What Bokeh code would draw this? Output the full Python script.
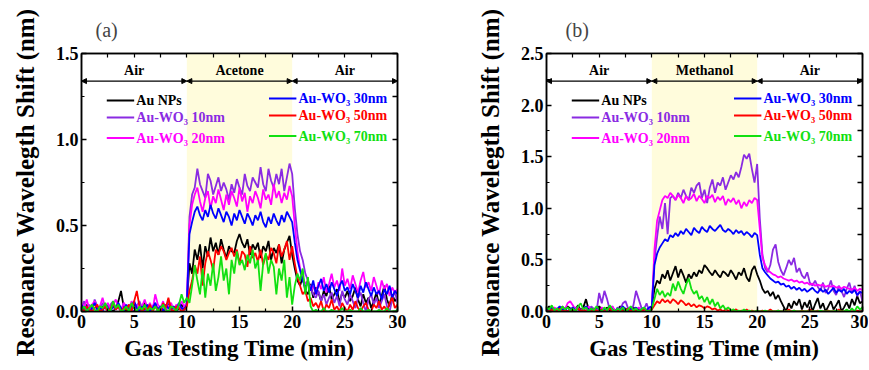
from bokeh.plotting import figure
from bokeh.layouts import row
from bokeh.models import (LinearAxis, Range1d, BoxAnnotation, Arrow, NormalHead,
                          Label, FixedTicker, NumeralTickFormatter)
from bokeh.embed import file_html
from bokeh.resources import INLINE

# ---------------- data ----------------
time_min = [round(i * 0.25, 2) for i in range(121)]

series_names = ["Au NPs", "Au-WO\u2083 10nm", "Au-WO\u2083 20nm",
                "Au-WO\u2083 30nm", "Au-WO\u2083 50nm", "Au-WO\u2083 70nm"]
series_colors = ["#000000", "#8A2BE2", "#FF00FF", "#0000FF", "#FF0000", "#11E011"]

phase_edges = [0, 10, 20, 30]
phases_a = ["Air", "Acetone", "Air"]
phases_b = ["Air", "Methanol", "Air"]

x_ticks = [0, 5, 10, 15, 20, 25, 30]
y_ticks_a = [0.0, 0.5, 1.0, 1.5]
y_ticks_b = [0.0, 0.5, 1.0, 1.5, 2.0, 2.5]

# ---- panel (a): acetone ----
a_au_nps = [
    0.03,0.01,0.04,0.00,0.02,0.05,0.01,0.00,0.03,0.02,
    0.04,0.01,0.00,0.02,0.06,0.12,0.03,0.00,0.02,0.01,
    0.04,0.02,0.00,0.03,0.05,0.01,0.00,0.02,0.04,0.01,
    0.03,0.00,0.02,0.05,0.01,0.03,0.00,0.02,0.04,0.01,
    0.05,
    0.28,0.22,0.36,0.30,0.39,0.25,0.38,0.32,0.43,0.35,
    0.40,0.33,0.42,0.36,0.31,0.38,0.35,0.34,0.41,0.45,
    0.40,0.37,0.42,0.33,0.39,0.36,0.40,0.31,0.38,0.35,
    0.41,0.30,0.37,0.34,0.39,0.28,0.36,0.40,0.44,0.33,
    0.25,0.18,0.15,0.20,0.12,0.10,0.16,0.08,0.14,0.11,
    0.06,0.12,0.09,0.15,0.07,0.10,0.13,0.05,0.11,0.08,
    0.12,0.06,0.09,0.14,0.07,0.03,0.10,0.05,0.08,0.02,
    0.06,0.11,0.04,0.09,0.15,0.07,0.03,0.10,0.06,0.08]
a_wo3_10 = [
    0.02,0.06,0.01,0.04,0.00,0.07,0.03,0.01,0.05,0.02,
    0.00,0.04,0.06,0.01,0.03,0.00,0.05,0.02,0.04,0.01,
    0.00,0.03,0.06,0.02,0.00,0.04,0.01,0.03,0.05,0.00,
    0.02,0.04,0.01,0.06,0.03,0.00,0.02,0.05,0.01,0.03,
    0.04,
    0.55,0.68,0.72,0.83,0.74,0.70,0.66,0.80,0.76,0.68,
    0.73,0.78,0.70,0.75,0.71,0.65,0.74,0.69,0.77,0.72,
    0.68,0.80,0.73,0.70,0.78,0.75,0.72,0.84,0.74,0.70,
    0.83,0.76,0.72,0.80,0.74,0.83,0.70,0.78,0.86,0.80,
    0.60,0.45,0.35,0.30,0.22,0.18,0.14,0.10,0.08,0.12,
    0.06,0.10,0.04,0.08,0.11,0.05,0.09,0.03,0.12,0.07,
    0.04,0.10,0.06,0.02,0.08,0.11,0.05,0.00,0.07,0.10,
    0.04,0.08,0.02,0.06,0.10,0.03,0.00,0.07,0.12,0.05]
a_wo3_20 = [
    0.05,0.02,0.07,0.01,0.04,0.06,0.00,0.03,0.08,0.02,
    0.05,0.01,0.04,0.07,0.02,0.00,0.05,0.03,0.01,0.06,
    0.02,0.04,0.00,0.03,0.07,0.02,0.05,0.01,0.10,0.04,
    0.02,0.06,0.00,0.03,0.05,0.01,0.04,0.02,0.06,0.03,
    0.05,
    0.50,0.62,0.68,0.72,0.64,0.58,0.66,0.70,0.60,0.67,
    0.63,0.71,0.65,0.59,0.68,0.62,0.70,0.66,0.61,0.72,
    0.64,0.69,0.58,0.67,0.63,0.70,0.66,0.60,0.71,0.65,
    0.68,0.62,0.74,0.66,0.70,0.63,0.69,0.65,0.73,0.67,
    0.50,0.35,0.25,0.20,0.16,0.18,0.12,0.15,0.10,0.17,
    0.13,0.20,0.11,0.16,0.22,0.14,0.18,0.12,0.25,0.15,
    0.19,0.13,0.21,0.16,0.11,0.18,0.23,0.14,0.17,0.12,
    0.20,0.15,0.10,0.18,0.13,0.16,0.09,0.14,0.11,0.13]
a_wo3_30 = [
    0.04,0.01,0.03,0.00,0.02,0.05,0.01,0.03,0.00,0.04,
    0.02,0.00,0.03,0.01,0.05,0.02,0.00,0.04,0.01,0.03,
    0.06,0.02,0.00,0.03,0.01,0.04,0.00,0.02,0.05,0.01,
    0.03,0.00,0.04,0.02,0.01,0.03,0.00,0.05,0.02,0.01,
    0.04,
    0.45,0.52,0.58,0.61,0.56,0.53,0.59,0.55,0.62,0.57,
    0.54,0.60,0.56,0.52,0.58,0.55,0.50,0.57,0.53,0.59,
    0.55,0.51,0.57,0.54,0.50,0.56,0.53,0.58,0.52,0.49,
    0.55,0.51,0.57,0.53,0.50,0.56,0.52,0.58,0.55,0.52,
    0.40,0.30,0.24,0.18,0.14,0.17,0.12,0.18,0.10,0.15,
    0.19,0.12,0.16,0.11,0.17,0.13,0.09,0.15,0.18,0.12,
    0.14,0.10,0.16,0.12,0.08,0.15,0.11,0.17,0.13,0.09,
    0.14,0.10,0.12,0.07,0.13,0.10,0.15,0.08,0.12,0.10]
a_wo3_50 = [
    0.02,0.00,0.03,0.01,0.00,0.02,0.04,0.00,0.01,0.03,
    0.00,0.02,0.05,0.01,0.03,0.00,0.02,0.01,0.04,0.00,
    0.06,0.12,0.03,0.00,0.02,0.01,0.04,0.00,0.03,0.01,
    0.00,0.05,0.02,0.08,0.01,0.00,0.03,0.02,0.00,0.01,
    0.03,
    0.12,0.18,0.27,0.22,0.32,0.15,0.28,0.35,0.30,0.24,
    0.36,0.33,0.38,0.35,0.30,0.34,0.37,0.32,0.36,0.28,
    0.35,0.33,0.26,0.38,0.31,0.34,0.29,0.36,0.27,0.33,
    0.30,0.37,0.34,0.28,0.39,0.32,0.36,0.41,0.30,0.38,
    0.28,0.20,0.15,0.10,0.12,0.06,0.08,0.03,0.05,0.02,
    0.06,0.00,0.04,0.02,0.07,0.01,0.03,0.00,0.05,0.02,
    0.00,0.04,0.01,0.06,0.02,0.00,0.03,0.05,0.01,0.00,
    0.04,0.02,0.06,0.01,0.03,0.00,0.05,0.08,0.02,0.04]
a_wo3_70 = [
    0.01,0.03,0.00,0.02,0.04,0.01,0.00,0.03,0.02,0.05,
    0.01,0.00,0.06,0.02,0.04,0.00,0.01,0.03,0.00,0.05,
    0.02,0.00,0.03,0.01,0.04,0.00,0.02,0.01,0.03,0.00,
    0.02,0.04,0.01,0.00,0.03,0.02,0.00,0.04,0.10,0.05,
    0.08,
    0.05,0.15,0.27,0.18,0.10,0.25,0.08,0.22,0.15,0.28,
    0.12,0.20,0.32,0.18,0.25,0.10,0.30,0.22,0.35,0.27,
    0.30,0.24,0.33,0.28,0.36,0.25,0.30,0.12,0.28,0.34,
    0.22,0.30,0.26,0.10,0.25,0.18,0.30,0.08,0.20,0.04,
    0.15,0.22,0.18,0.25,0.10,0.20,0.03,0.00,0.01,0.00,
    0.00,0.02,0.00,0.00,0.01,0.00,0.00,0.00,0.02,0.00,
    0.00,0.01,0.00,0.00,0.00,0.02,0.00,0.00,0.01,0.00,
    0.00,0.00,0.01,0.00,0.00,0.02,0.00,0.00,0.00,0.01]

# ---- panel (b): methanol ----
b_au_nps = [
    0.02,0.05,0.01,0.03,0.00,0.04,0.02,0.01,0.05,0.03,
    0.00,0.02,0.06,0.01,0.04,0.12,0.02,0.00,0.03,0.01,
    0.05,0.02,0.00,0.04,0.01,0.03,0.00,0.02,0.05,0.01,
    0.03,0.00,0.02,0.04,0.01,0.03,0.00,0.02,0.01,0.03,
    0.05,
    0.22,0.30,0.27,0.36,0.32,0.40,0.30,0.37,0.44,0.33,
    0.41,0.35,0.28,0.36,0.32,0.38,0.34,0.40,0.37,0.45,
    0.42,0.38,0.35,0.40,0.36,0.33,0.39,0.37,0.34,0.40,
    0.36,0.31,0.38,0.35,0.42,0.33,0.29,0.40,0.44,0.36,
    0.30,0.22,0.18,0.20,0.15,0.19,0.12,0.16,0.10,0.05,
    0.00,0.08,0.03,0.10,0.06,0.12,0.02,0.09,0.04,0.11,
    0.00,0.07,0.13,0.03,0.08,0.00,0.05,0.10,0.02,0.06,
    0.11,0.00,0.04,0.09,0.03,0.12,0.06,0.15,0.08,0.10]
b_wo3_10 = [
    0.02,0.00,0.04,0.01,0.03,0.00,0.05,0.02,0.00,0.03,
    0.01,0.04,0.02,0.00,0.03,0.01,0.00,0.05,0.02,0.00,
    0.18,0.08,0.20,0.12,0.02,0.05,0.00,0.04,0.02,0.08,
    0.10,0.03,0.00,0.06,0.20,0.12,0.04,0.02,0.08,0.00,
    0.05,
    0.50,0.72,0.92,0.80,1.05,0.75,1.10,1.12,1.08,1.15,
    1.10,1.18,1.12,1.08,1.20,1.15,1.22,1.25,1.10,1.18,
    1.05,1.20,1.28,1.15,1.25,1.22,1.30,1.18,1.25,1.32,
    1.28,1.35,1.30,1.40,1.52,1.48,1.53,1.38,1.25,1.43,
    0.90,0.55,0.42,0.38,0.45,0.60,0.65,0.48,0.40,0.35,
    0.42,0.50,0.45,0.52,0.38,0.42,0.35,0.32,0.38,0.28,
    0.25,0.30,0.24,0.20,0.28,0.18,0.22,0.30,0.20,0.16,
    0.25,0.20,0.14,0.22,0.28,0.18,0.25,0.15,0.20,0.10]
b_wo3_20 = [
    0.00,0.03,0.01,0.04,0.02,0.00,0.05,0.02,0.08,0.10,
    0.06,0.02,0.04,0.00,0.03,0.01,0.05,0.02,0.00,0.03,
    0.01,0.04,0.02,0.00,0.03,0.05,0.01,0.02,0.00,0.04,
    0.02,0.01,0.03,0.00,0.02,0.04,0.01,0.00,0.02,0.03,
    0.04,
    0.60,0.88,0.98,1.08,1.12,1.10,1.15,1.12,1.08,1.13,
    1.10,1.05,1.12,1.08,1.10,1.14,1.07,1.12,1.09,1.05,
    1.12,1.10,1.13,1.06,1.11,1.08,1.12,1.03,1.09,1.06,
    1.10,1.04,1.08,1.00,1.06,1.02,1.08,1.05,1.10,1.08,
    0.80,0.52,0.45,0.40,0.38,0.36,0.35,0.33,0.34,0.32,
    0.31,0.30,0.31,0.29,0.30,0.28,0.29,0.27,0.28,0.26,
    0.27,0.25,0.26,0.25,0.26,0.24,0.25,0.24,0.25,0.23,
    0.24,0.22,0.24,0.23,0.22,0.21,0.23,0.20,0.22,0.21]
b_wo3_30 = [
    0.03,0.01,0.04,0.00,0.02,0.05,0.01,0.03,0.00,0.02,
    0.04,0.01,0.03,0.00,0.02,0.05,0.01,0.03,0.00,0.04,
    0.02,0.00,0.03,0.01,0.04,0.02,0.00,0.03,0.01,0.05,
    0.02,0.00,0.03,0.01,0.04,0.00,0.02,0.03,0.01,0.04,
    0.05,
    0.45,0.56,0.62,0.66,0.70,0.68,0.74,0.72,0.76,0.73,
    0.78,0.75,0.80,0.77,0.74,0.81,0.78,0.76,0.82,0.79,
    0.77,0.83,0.80,0.78,0.81,0.84,0.79,0.77,0.80,0.78,
    0.75,0.79,0.76,0.78,0.74,0.77,0.75,0.72,0.76,0.74,
    0.55,0.42,0.38,0.35,0.32,0.30,0.28,0.29,0.26,0.27,
    0.24,0.25,0.22,0.24,0.21,0.23,0.20,0.22,0.19,0.21,
    0.23,0.20,0.18,0.22,0.19,0.21,0.17,0.20,0.23,0.18,
    0.21,0.19,0.22,0.17,0.20,0.18,0.21,0.16,0.19,0.18]
b_wo3_50 = [
    0.01,0.00,0.02,0.00,0.01,0.03,0.00,0.01,0.00,0.02,
    0.00,0.01,0.03,0.00,0.02,0.00,0.01,0.00,0.02,0.01,
    0.00,0.02,0.00,0.01,0.03,0.00,0.01,0.00,0.02,0.00,
    0.01,0.03,0.00,0.02,0.00,0.01,0.00,0.02,0.01,0.00,
    0.02,
    0.06,0.10,0.08,0.12,0.09,0.11,0.08,0.12,0.10,0.07,
    0.11,0.09,0.06,0.08,0.05,0.07,0.04,0.06,0.05,0.03,
    0.05,0.04,0.02,0.03,0.01,0.02,0.00,0.02,0.01,0.00,
    0.01,0.02,0.00,0.01,0.00,0.02,0.00,0.01,0.00,0.01,
    0.00,0.01,0.00,0.00,0.02,0.00,0.00,0.01,0.00,0.00,
    0.00,0.02,0.00,0.01,0.00,0.00,0.01,0.00,0.00,0.02,
    0.00,0.00,0.01,0.00,0.00,0.00,0.01,0.00,0.00,0.00,
    0.02,0.00,0.00,0.01,0.00,0.00,0.00,0.01,0.00,0.00]
b_wo3_70 = [
    0.04,0.02,0.06,0.01,0.03,0.00,0.05,0.02,0.04,0.01,
    0.03,0.00,0.05,0.08,0.02,0.04,0.00,0.03,0.01,0.05,
    0.02,0.00,0.04,0.01,0.06,0.02,0.00,0.03,0.01,0.04,
    0.00,0.02,0.05,0.01,0.03,0.00,0.02,0.04,0.01,0.00,
    0.03,
    0.12,0.22,0.16,0.20,0.14,0.18,0.15,0.27,0.20,0.29,
    0.22,0.17,0.26,0.32,0.22,0.17,0.20,0.12,0.15,0.09,
    0.14,0.07,0.12,0.05,0.09,0.03,0.06,0.02,0.04,0.01,
    0.02,0.00,0.01,0.00,0.02,0.00,0.01,0.00,0.00,0.01,
    0.00,0.00,0.01,0.00,0.00,0.00,0.00,0.01,0.00,0.00,
    0.00,0.00,0.00,0.01,0.00,0.00,0.00,0.00,0.00,0.00,
    0.00,0.00,0.00,0.01,0.00,0.00,0.00,0.00,0.00,0.01,
    0.00,0.00,0.00,0.02,0.00,0.03,0.00,0.05,0.02,0.04]

series_a = [a_au_nps, a_wo3_10, a_wo3_20, a_wo3_30, a_wo3_50, a_wo3_70]
series_b = [b_au_nps, b_wo3_10, b_wo3_20, b_wo3_30, b_wo3_50, b_wo3_70]

FONT = "Liberation Serif"


def style_axis(ax):
    ax.major_label_text_font = FONT
    ax.major_label_text_font_style = "bold"
    ax.major_label_text_font_size = "18px"
    ax.major_label_text_color = "black"
    ax.axis_label_text_font = FONT
    ax.axis_label_text_font_style = "bold"
    ax.axis_label_text_color = "black"
    ax.axis_line_width = 1.5
    ax.axis_line_color = "black"
    ax.major_tick_in = 5
    ax.major_tick_out = 0
    ax.minor_tick_in = 3
    ax.minor_tick_out = 0
    ax.major_tick_line_width = 1.5
    ax.minor_tick_line_width = 1.2
    ax.major_tick_line_color = "black"
    ax.minor_tick_line_color = "black"


def make_panel(tag, series, phases, y_max, y_ticks, left_border, right_border,
               tag_offset):
    p = figure(output_backend="svg", toolbar_location=None,
               x_range=Range1d(0, 30), y_range=Range1d(0, y_max),
               frame_width=316, frame_height=258,
               min_border_left=left_border, min_border_right=right_border,
               min_border_top=53, min_border_bottom=59,
               background_fill_color="white", border_fill_color="white")
    p.grid.visible = False
    p.outline_line_color = "black"
    p.outline_line_width = 1.5

    # panel tag as title
    p.title.text = tag
    p.title.align = "left"
    p.title.offset = tag_offset
    p.title.text_font = FONT
    p.title.text_font_style = "normal"
    p.title.text_font_size = "20px"
    p.title.standoff = 26

    x_minor = [t + 2.5 for t in x_ticks[:-1]]
    step = y_ticks[1] - y_ticks[0]
    y_minor = [t + step / 2 for t in y_ticks[:-1]]
    xt = FixedTicker(ticks=x_ticks, minor_ticks=x_minor)
    yt = FixedTicker(ticks=y_ticks, minor_ticks=y_minor)

    p.xaxis.ticker = xt
    p.yaxis.ticker = yt
    p.yaxis.formatter = NumeralTickFormatter(format="0.0")
    p.xaxis.axis_label = "Gas Testing Time (min)"
    p.yaxis.axis_label = "Resonance Wavelegth Shift (nm)"
    style_axis(p.xaxis[0])
    style_axis(p.yaxis[0])
    p.xaxis.axis_label_text_font_size = "23px"
    p.yaxis.axis_label_text_font_size = "25px"
    p.xaxis.major_label_standoff = 3
    p.yaxis.major_label_standoff = 3
    p.xaxis.axis_label_standoff = 5
    p.yaxis.axis_label_standoff = 14

    # mirrored axes: ticks only (all ticks as "minor" so no labels are drawn)
    ra = LinearAxis(ticker=FixedTicker(ticks=[], minor_ticks=sorted(y_ticks + y_minor)))
    style_axis(ra)
    ra.minor_tick_in = 5
    ra.minor_tick_line_width = 1.5
    p.add_layout(ra, "right")
    ta = LinearAxis(ticker=FixedTicker(ticks=[], minor_ticks=sorted(x_ticks + x_minor)))
    style_axis(ta)
    ta.minor_tick_in = 4
    p.add_layout(ta, "above")

    # gas exposure shading
    p.add_layout(BoxAnnotation(left=phase_edges[1], right=phase_edges[2],
                               fill_color="#FFFCDC", fill_alpha=1.0,
                               line_color=None, level="underlay"))

    # header arrows and phase labels
    y_line = 0.893 * y_max
    y_lab = 0.935 * y_max
    for i, name in enumerate(phases):
        x0, x1 = phase_edges[i], phase_edges[i + 1]
        p.add_layout(Arrow(x_start=x0, x_end=x1, y_start=y_line, y_end=y_line,
                           line_color="black", line_width=1.2,
                           start=NormalHead(size=5, fill_color="black", line_color="black"),
                           end=NormalHead(size=5, fill_color="black", line_color="black")))
        p.add_layout(Label(x=(x0 + x1) / 2, y=y_lab, text=name,
                           text_font=FONT, text_font_style="bold",
                           text_font_size="14px", text_align="center",
                           text_baseline="middle", text_color="black"))

    # data lines
    for vals, col in zip(series, series_colors):
        p.line(time_min, vals, line_color=col, line_width=1.8)

    # legend (two columns, coloured text)
    leg_rows = [0.818 * y_max, 0.752 * y_max, 0.672 * y_max]
    leg_cols = [(2.4, 5.0, 5.2), (17.8, 20.4, 20.6)]
    for k, (name, col) in enumerate(zip(series_names, series_colors)):
        c = leg_cols[k // 3]
        yy = leg_rows[k % 3] + (0.008 * y_max if k >= 3 else 0)
        p.segment(x0=[c[0]], y0=[yy], x1=[c[1]], y1=[yy],
                  line_color=col, line_width=2)
        p.add_layout(Label(x=c[2], y=yy, text=name, text_font=FONT,
                           text_font_style="bold", text_font_size="14px",
                           text_color=col, text_baseline="middle"))
    return p


pa = make_panel("(a)", series_a, phases_a, 1.5, y_ticks_a, 81, 38, 14)
pb = make_panel("(b)", series_b, phases_b, 2.5, y_ticks_b, 111, 6, 19)

layout = row(pa, pb)
open("out.html", "w").write(file_html(layout, INLINE))
